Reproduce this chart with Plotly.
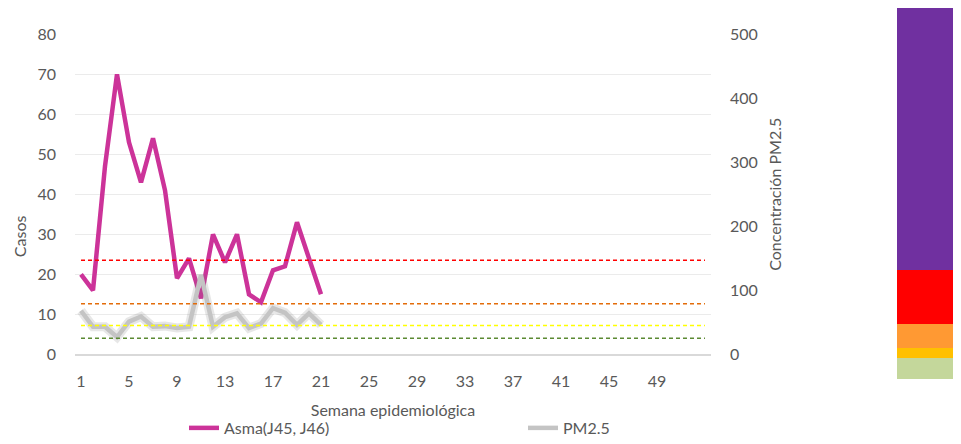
import plotly.graph_objects as go

# Semana epidemiológica y series
semanas = list(range(1, 22))
asma = [20, 16, 47, 70, 53, 43, 54, 41, 19, 24, 14, 30, 23, 30, 15, 13, 21, 22, 33, 24, 15]
pm25 = [68, 43, 43, 27, 51, 59, 43, 44, 41, 43, 124, 43, 58, 64, 41, 48, 72, 65, 46, 64, 46]

# Umbrales PM2.5 (NOM-025) sobre todo el año
umbrales = [25, 45, 79, 147]
umbral_colores = ["#5B8A32", "#FFFF00", "#E36C0A", "#FF0000"]
semanas_anio = [1, 53]

x_ticks = list(range(1, 50, 4))

# Barra de colores a la derecha (de abajo hacia arriba)
escala_alturas = [21, 10, 24, 54, 262]
escala_colores = ["#C4D79B", "#FFC000", "#FF9933", "#FF0000", "#7030A0"]

FONT = "Lato"
GRIS = "#595959"

fig = go.Figure()

fig.add_trace(go.Scatter(
    x=semanas, y=asma, name="Asma(J45, J46)", mode="lines",
    line=dict(color="#CC3399", width=4.5), yaxis="y"
))
# sombra suave de la serie PM2.5
fig.add_trace(go.Scatter(
    x=semanas, y=pm25, mode="lines", showlegend=False, hoverinfo="skip",
    line=dict(color="rgba(120,120,120,0.18)", width=9), yaxis="y2"
))
fig.add_trace(go.Scatter(
    x=semanas, y=pm25, name="PM2.5", mode="lines",
    line=dict(color="#C4C4C4", width=4.5), yaxis="y2"
))
for u, c in zip(umbrales, umbral_colores):
    fig.add_trace(go.Scatter(
        x=semanas_anio, y=[u, u], mode="lines", showlegend=False, hoverinfo="skip",
        line=dict(color=c, width=1.5, dash="4px,3px"), yaxis="y2"
    ))

for h, c in zip(escala_alturas, escala_colores):
    fig.add_trace(go.Bar(
        x=[0], y=[h], width=1, marker=dict(color=c, line_width=0),
        showlegend=False, hoverinfo="skip", xaxis="x3", yaxis="y3"
    ))

# la página deja 8px de margen en el body: la figura se reduce en consecuencia
fig.update_layout(
    width=953, height=428,
    margin=dict(l=67, r=0, t=0, b=57, autoexpand=False),
    paper_bgcolor="white", plot_bgcolor="white",
    font=dict(family=FONT, size=16, color=GRIS),
    barmode="stack",
    xaxis=dict(
        domain=[0, 0.7178], range=[0.5, 53.5], tickvals=x_ticks,
        showgrid=False, zeroline=False, showline=True, linecolor="#D9D9D9", linewidth=1.5,
        ticks="", ticklabelstandoff=12, automargin=False,
        title=dict(text="Semana epidemiológica", standoff=16, font=dict(size=16, color=GRIS)),
    ),
    yaxis=dict(
        domain=[0.0666, 0.9291], range=[0, 80], dtick=10, automargin=False,
        gridcolor="#EBEBEB", gridwidth=1, zeroline=False, ticks="", ticklabelstandoff=18,
    ),
    yaxis2=dict(
        overlaying="y", side="right", anchor="x", range=[0, 500], dtick=100,
        showgrid=False, zeroline=False, ticks="", ticklabelstandoff=18, automargin=False,
        title=dict(text="Concentración PM2.5", standoff=12, font=dict(size=16, color=GRIS)),
    ),
    xaxis3=dict(domain=[0.9278, 1], range=[-0.5, 0.5], visible=False),
    yaxis3=dict(domain=[0, 1], range=[0, sum(escala_alturas)], visible=False, anchor="x3"),
    legend=dict(
        orientation="h", traceorder="normal", x=0.123, xanchor="left", y=-0.132, yanchor="middle",
        entrywidth=294, entrywidthmode="pixels", font=dict(size=16, color=GRIS),
        bgcolor="rgba(0,0,0,0)",
    ),
    annotations=[dict(
        text="Casos", textangle=-90, xref="paper", yref="paper",
        x=-0.0632, y=0.385, xanchor="center", yanchor="middle", showarrow=False,
        font=dict(size=16, color=GRIS),
    )],
)

fig.write_html("out.html")
